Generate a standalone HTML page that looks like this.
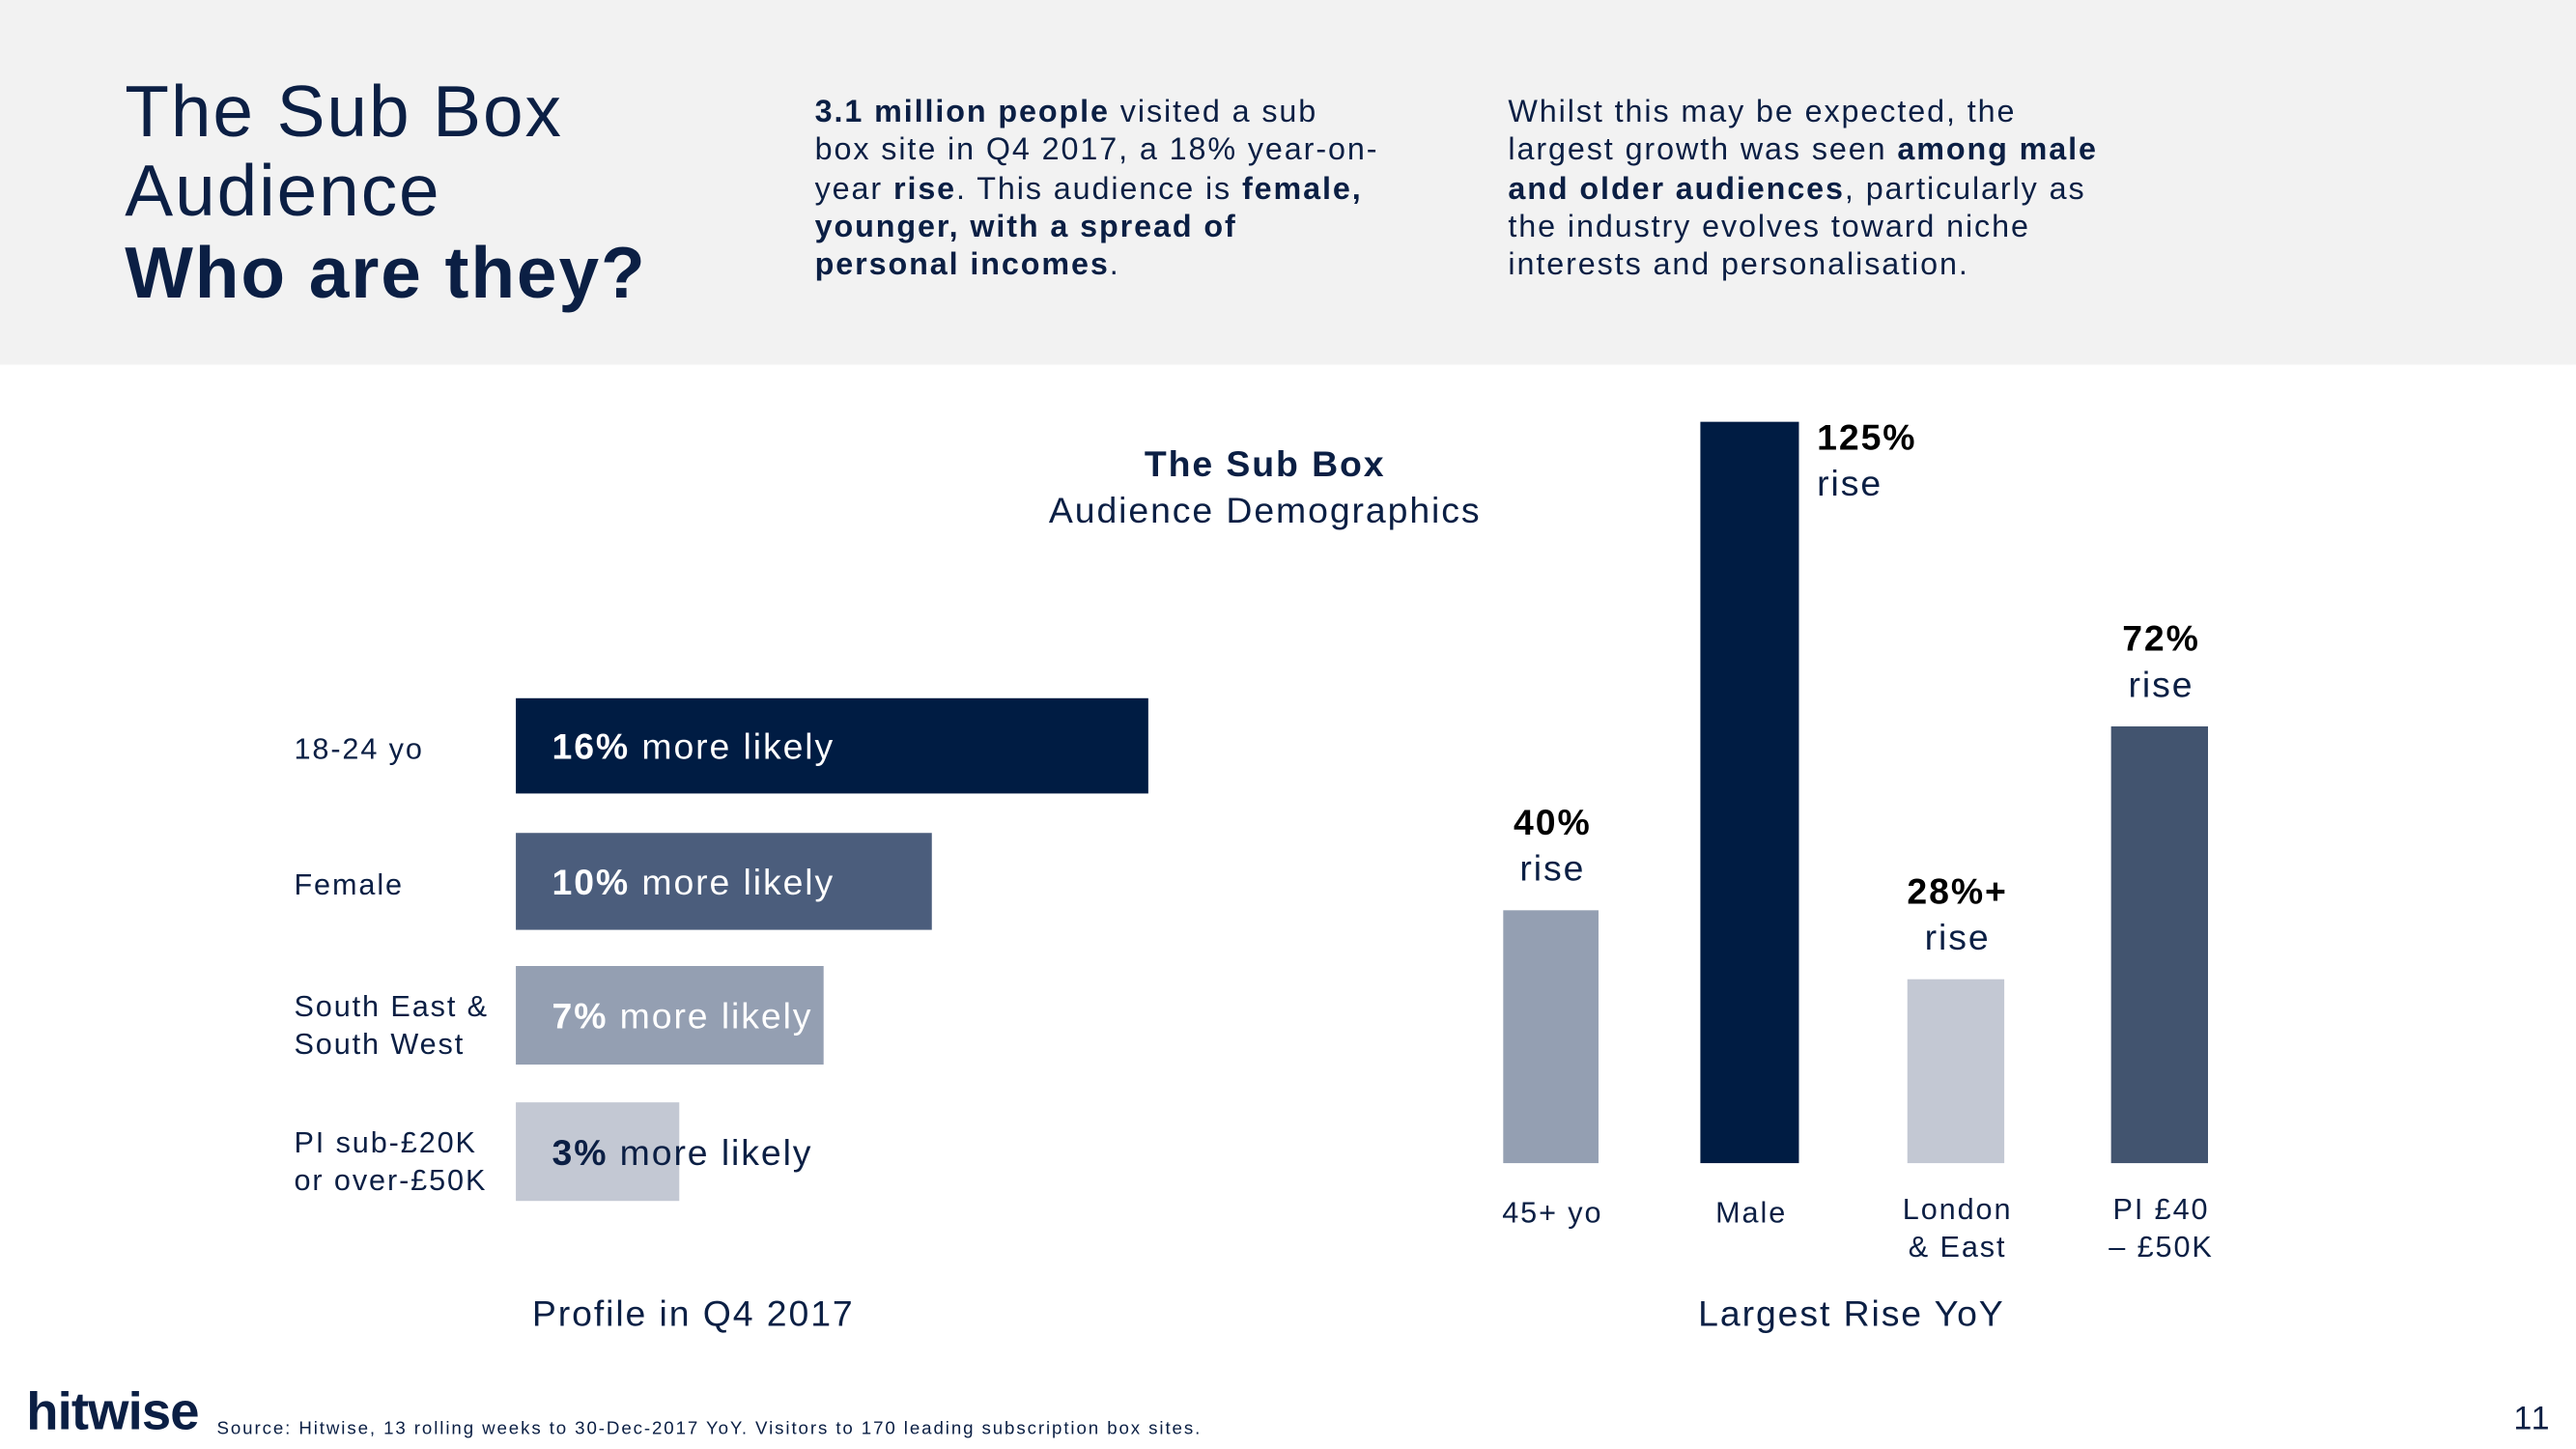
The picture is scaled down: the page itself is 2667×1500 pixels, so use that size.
<!DOCTYPE html>
<html><head><meta charset="utf-8"><style>
html,body{margin:0;padding:0;background:#fff;}
svg{display:block;font-family:"Liberation Sans",sans-serif;letter-spacing:0.07em;}
</style></head><body>
<svg id="s" width="2667" height="1500" viewBox="0 0 1568 882" preserveAspectRatio="none">
<rect x="0" y="0" width="1568" height="222" fill="#f2f2f2"/>
<g fill="#0b1f44">
<text x="76" y="83" font-size="44">The Sub Box</text>
<text x="76" y="131" font-size="44">Audience</text>
<text x="76" y="181" font-size="44" font-weight="bold">Who are they?</text>
</g>
<g fill="#0b1f44" font-size="19">
<text x="496" y="74"><tspan font-weight="bold">3.1 million people</tspan> visited a sub</text>
<text x="496" y="97">box site in Q4 2017, a 18% year-on-</text>
<text x="496" y="121">year <tspan font-weight="bold">rise</tspan>. This audience is <tspan font-weight="bold">female,</tspan></text>
<text x="496" y="144" font-weight="bold">younger, with a spread of</text>
<text x="496" y="167"><tspan font-weight="bold">personal incomes</tspan>.</text>
</g>
<g fill="#0b1f44" font-size="19">
<text x="918" y="74">Whilst this may be expected, the</text>
<text x="918" y="97">largest growth was seen <tspan font-weight="bold">among male</tspan></text>
<text x="918" y="121"><tspan font-weight="bold">and older audiences</tspan>, particularly as</text>
<text x="918" y="144">the industry evolves toward niche</text>
<text x="918" y="167">interests and personalisation.</text>
</g>
<g fill="#0b1f44" text-anchor="middle">
<text x="770" y="290" font-size="22" font-weight="bold">The Sub Box</text>
<text x="770" y="318" font-size="22">Audience Demographics</text>
</g>
<g id="left"></g>
<g id="right"></g>
<text x="422" y="807" font-size="22" fill="#0b1f44" text-anchor="middle">Profile in Q4 2017</text>
<text x="1127" y="807" font-size="22" fill="#0b1f44" text-anchor="middle">Largest Rise YoY</text>
<text x="16" y="870" font-size="32" font-weight="bold" fill="#0b1f44" letter-spacing="-0.5">hitwise</text>
<text x="132" y="873" font-size="11" fill="#0b1f44">Source: Hitwise, 13 rolling weeks to 30-Dec-2017 YoY. Visitors to 170 leading subscription box sites.</text>
<text x="1530" y="870" font-size="20" fill="#0b1f44">11</text>
</svg>
<script>
const profileCats = [["18-24 yo"],["Female"],["South East &","South West"],["PI sub-£20K","or over-£50K"]];
const profileVals = [16,10,7,3];
const riseCats = [["45+ yo"],["Male"],["London","& East"],["PI £40","– £50K"]];
const riseVals = [40,125,28,72];
const riseSuffix = ["%","%","%+","%"];

const NS="http://www.w3.org/2000/svg";
function mk(tag,attrs,parent,txt){const e=document.createElementNS(NS,tag);for(const k in attrs)e.setAttribute(k,attrs[k]);if(txt!==undefined)e.textContent=txt;parent.appendChild(e);return e;}
const navy="#0b1f44";
const L=document.getElementById('left');
const lx=v=>33.6+21.96*v;
const lColors=["#001c43","#4b5d7c","#949fb2","#c3c8d3"];
const lTop=[425,507,588,671], lH=[58,59,60,60];
profileVals.forEach((v,i)=>{
  const r=mk('rect',{x:314,y:lTop[i],width:lx(v),height:lH[i],fill:lColors[i]},L);
  
  
  const cy=lTop[i]+lH[i]/2+8;
  const t=mk('text',{x:336,y:cy,'font-size':22,fill:i===3?navy:"#fff"},L);
  
  
  mk('tspan',{'font-weight':'bold'},t,v+'%');
  mk('tspan',{},t,' more likely');
  const lines=profileCats[i];
  const base=lines.length===1?cy:cy-4;
  lines.forEach((ln,j)=>{
    const c=mk('text',{x:179,y:base+(j-(lines.length-1)/2)*23+(lines.length>1?8:0),'font-size':18,fill:navy},L,ln);
    
    
  });
});
const R=document.getElementById('right');
const base=708;
const ry=v=>14+3.498*v;
const rX=[915,1035,1161,1285], rW=[58,60,59,59];
const rColors=["#949fb2","#001c43","#c3c8d3","#42546f"];
riseVals.forEach((v,i)=>{
  const h=ry(v);
  const r=mk('rect',{x:rX[i],y:base-h,width:rW[i],height:h,fill:rColors[i]},R);
  
  
  const cx=rX[i]+rW[i]/2+1;
  let lx2=cx, ly=base-h-46, anchor='middle';
  if(i===1){lx2=rX[i]+rW[i]+11; ly=base-h+17; anchor='start';}
  const p=mk('text',{x:lx2,y:ly,'font-size':22,'font-weight':'bold',fill:'#000','text-anchor':anchor},R,v+riseSuffix[i]);
  
  
  const s=mk('text',{x:lx2,y:ly+28,'font-size':22,fill:navy,'text-anchor':anchor},R,'rise');
  
  
  const lines=riseCats[i];
  lines.forEach((ln,j)=>{
    const c=mk('text',{x:cx,y:(lines.length===1?744:742+j*23),'font-size':18,fill:navy,'text-anchor':'middle'},R,ln);
    
    
  });
});
</script>
</body></html>
